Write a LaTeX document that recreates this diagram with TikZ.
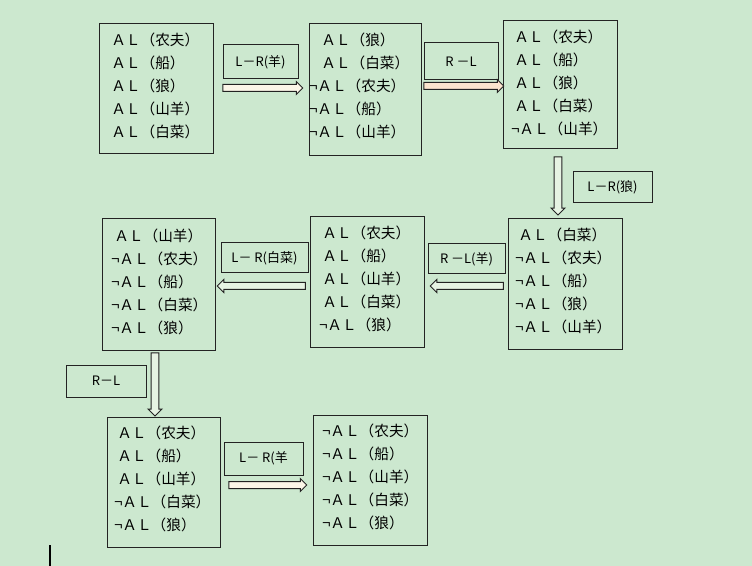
\documentclass[tikz,border=0pt]{standalone}
\usepackage{fontspec}
\setmainfont{Noto Sans CJK SC}
\usetikzlibrary{shapes.arrows,calc}
\definecolor{bg}{RGB}{204,232,207}
\definecolor{edge}{RGB}{35,35,35}
\definecolor{cream}{RGB}{252,246,232}
\definecolor{peach}{RGB}{251,228,206}
\definecolor{pale}{RGB}{230,243,227}
\newlength\negsh
\newcommand\yes[1]{ＡＬ（#1）}
\newcommand\nop[1]{\hspace*{\negsh}¬ＡＬ（#1）}
\newcommand\stlines[4]{%
  \foreach \t [count=\i from 0] in {#4} {
    \node[linetext] (#1l\i) at (#2, #3+23*\i) {\t};
  }%
}
\tikzset{
  statebox/.style={draw=edge, line width=0.75pt, fill=bg, inner sep=0pt},
  lblbox/.style={draw=edge, line width=0.75pt, fill=bg, inner sep=0pt,
    font=\fontsize{9.75pt}{11pt}\selectfont},
  linetext/.style={anchor=west, inner sep=0pt,
    font=\fontsize{11pt}{12pt}\selectfont},
  blk/.style={single arrow, draw=edge, line width=0.75pt, inner sep=2.25pt,
    single arrow head extend=2.25pt,
    single arrow tip angle=90, single arrow head indent=0pt}
}
\begin{document}
\begin{tikzpicture}[x=0.75pt,y=-0.75pt]
\fill[bg] (0,0) rectangle (752,566);
\useasboundingbox (0,0) rectangle (752,566);

% state boxes
\node[statebox, minimum width=85.5pt, minimum height=97.5pt] (b1) at (156,89) {};
\node[statebox, minimum width=84pt,   minimum height=99pt]   (b2) at (365,90) {};
\node[statebox, minimum width=85.5pt, minimum height=96pt]   (b3) at (560,85) {};
\node[statebox, minimum width=85.5pt, minimum height=97.5pt] (b4) at (565,284) {};
\node[statebox, minimum width=85.5pt, minimum height=97.5pt] (b5) at (367,282) {};
\node[statebox, minimum width=84.75pt,minimum height=98.25pt](b6) at (158.5,284.5) {};
\node[statebox, minimum width=84.75pt,minimum height=97.5pt] (b7) at (163.5,482) {};
\node[statebox, minimum width=85.5pt, minimum height=97.5pt] (b8) at (370,480) {};

% texts
\setlength{\negsh}{-2.25pt}
\stlines{b1}{111}{40}{\yes{农夫},\yes{船},\yes{狼},\yes{山羊},\yes{白菜}}
\setlength{\negsh}{-9pt}
\stlines{b2}{321}{40}{\yes{狼},\yes{白菜},\nop{农夫},\nop{船},\nop{山羊}}
\setlength{\negsh}{-2.25pt}
\stlines{b3}{514}{37}{\yes{农夫},\yes{船},\yes{狼},\yes{白菜},\nop{山羊}}
\stlines{b4}{518}{235}{\yes{白菜},\nop{农夫},\nop{船},\nop{狼},\nop{山羊}}
\stlines{b5}{322}{233}{\yes{农夫},\yes{船},\yes{山羊},\yes{白菜},\nop{狼}}
\stlines{b6}{114}{236}{\yes{山羊},\nop{农夫},\nop{船},\nop{白菜},\nop{狼}}
\stlines{b7}{117}{433}{\yes{农夫},\yes{船},\yes{山羊},\nop{白菜},\nop{狼}}
\stlines{b8}{325}{431}{\nop{农夫},\nop{船},\nop{山羊},\nop{白菜},\nop{狼}}

% label boxes
\node[lblbox, minimum width=56.25pt, minimum height=25.5pt] (l1) at (260.5,62) {L－R(羊)};
\node[lblbox, minimum width=55.5pt,  minimum height=27.75pt] (l2) at (461,61.5) {R －L};
\node[lblbox, minimum width=59.25pt, minimum height=23.25pt] (l3) at (612.5,187.5) {L－R(狼)};
\node[lblbox, minimum width=65.25pt, minimum height=22.5pt] (l4) at (264.5,258) {L－ R(白菜)};
\node[lblbox, minimum width=57.75pt, minimum height=22.5pt] (l5) at (466.5,259) {R －L(羊)};
\node[lblbox, minimum width=60pt,    minimum height=24pt] (l6) at (106,381) {R－L};
\node[lblbox, minimum width=59.25pt, minimum height=24.75pt] (l7) at (263.5,458.5) {L－ R(羊};

% block arrows
\node[blk, fill=cream, minimum height=60pt] (a1) at (261,88) {};
\node[blk, fill=peach, minimum height=60pt] (a2) at (462,86) {};
\node[blk, fill=pale, minimum height=43.5pt, inner sep=2.6pt, shape border rotate=270] (a3) at (558,184) {};
\node[blk, fill=pale, minimum height=54.75pt, shape border rotate=180] (a4) at (468.5,286) {};
\node[blk, fill=pale, minimum height=66pt, shape border rotate=180] (a5) at (263,286) {};
\node[blk, fill=pale, minimum height=47.25pt, inner sep=2.6pt, shape border rotate=270] (a6) at (155,382.5) {};
\node[blk, fill=cream, minimum height=58.5pt] (a7) at (266,485) {};

% text cursor mark
\draw[black, line width=1.5pt] (50,545) -- (50,566);
\end{tikzpicture}
\end{document}
